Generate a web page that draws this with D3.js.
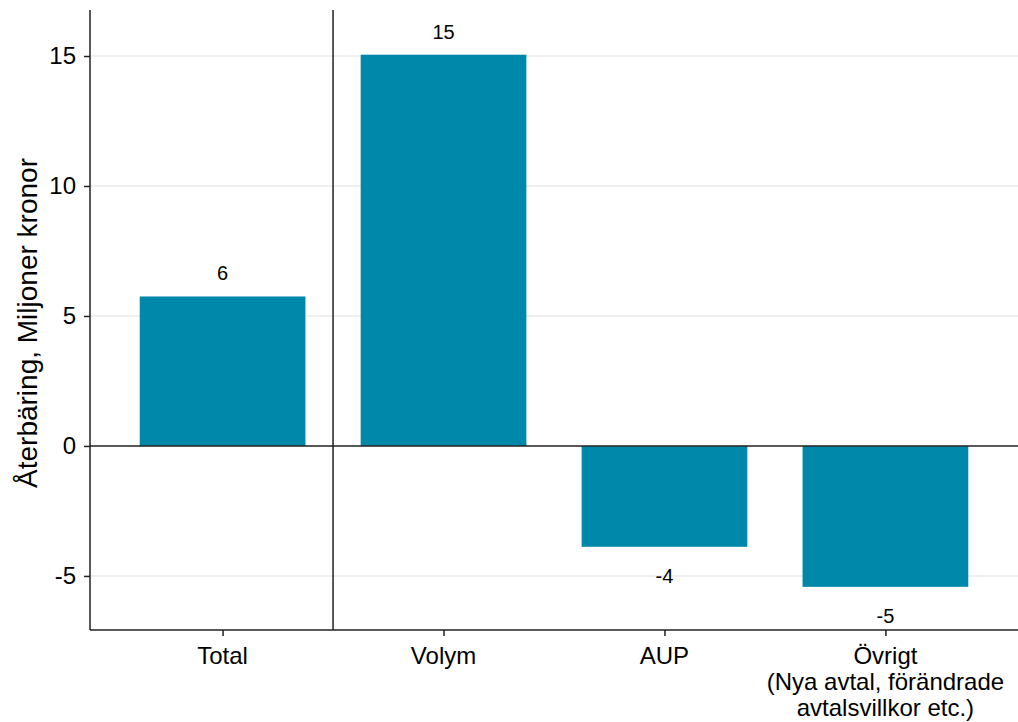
<!DOCTYPE html>
<html>
<head>
<meta charset="utf-8">
<script src="https://d3js.org/d3.v7.min.js"></script>
<style>
  body { margin: 0; background: #fff; }
  text { font-family: "Liberation Sans", Arial, sans-serif; fill: #000; }
</style>
</head>
<body>
<svg width="1018" height="722"></svg>
<script>
let categories = ["Total", "Volym", "AUP", "Övrigt\n(Nya avtal, förändrade\navtalsvillkor etc.)"];
let values = [5.75, 15.05, -3.88, -5.42];
let yTicks = [-5, 0, 5, 10, 15];

let svg = d3.select("svg"),
    width = +svg.attr("width"),
    height = +svg.attr("height");

let mLeft = 90, mRight = 1018, mTop = 10, mBottom = 630;

// ggplot-like discrete axis: positions 1..n with 0.6 expansion
let x = d3.scaleLinear().domain([0.4, categories.length + 0.6]).range([mLeft, mRight]);
let y = d3.scaleLinear().domain([-7.08, 16.77]).range([mBottom, mTop]);
let barW = x(1.75) - x(1);

let g = svg.append("g");

// grid
g.selectAll(".grid")
    .data(yTicks.filter(t => t !== 0))
    .enter().append("line")
    .attr("x1", mLeft).attr("x2", mRight)
    .attr("y1", d => y(d)).attr("y2", d => y(d))
    .attr("stroke", "#ebebeb").attr("stroke-width", 1.5);

// bars
g.selectAll(".bar")
    .data(values)
    .enter().append("rect")
    .attr("x", (d, i) => x(i + 1) - barW / 2)
    .attr("width", barW)
    .attr("y", d => y(Math.max(0, d)))
    .attr("height", d => Math.abs(y(d) - y(0)))
    .attr("fill", "#0088ab");

// zero line
g.append("line")
    .attr("x1", mLeft).attr("x2", mRight)
    .attr("y1", y(0)).attr("y2", y(0))
    .attr("stroke", "#222").attr("stroke-width", 1.5);

// separator after Total
g.append("line")
    .attr("x1", x(1.5)).attr("x2", x(1.5))
    .attr("y1", mTop).attr("y2", mBottom)
    .attr("stroke", "#222").attr("stroke-width", 1.5);

// value labels
g.selectAll(".val")
    .data(values)
    .enter().append("text")
    .attr("x", (d, i) => x(i + 1))
    .attr("y", d => d >= 0 ? y(d) - 23 : y(d) + 29)
    .attr("dy", "0.35em")
    .attr("text-anchor", "middle")
    .style("font-size", "20px")
    .text(d => String(Math.round(d)));

// y axis
let yAxis = g.append("g")
    .attr("transform", `translate(${mLeft},0)`)
    .call(d3.axisLeft(y).tickValues(yTicks).tickSize(6).tickPadding(8).tickFormat(d => String(d)));
yAxis.select(".domain").attr("stroke", "#222").attr("stroke-width", 1.5).attr("d", `M0,${mTop}V${mBottom}`);
yAxis.selectAll(".tick line").attr("stroke", "#222").attr("stroke-width", 1.5);
yAxis.selectAll(".tick text")
    .attr("font-size", null)
    .style("font-size", "24px")
    .style("font-family", "Liberation Sans, Arial, sans-serif")
    .attr("fill", "#000");
yAxis.attr("font-size", 24);

// x axis
let xAxis = g.append("g")
    .attr("transform", `translate(0,${mBottom})`)
    .call(d3.axisBottom(x).tickValues(d3.range(1, categories.length + 1)).tickSize(6).tickFormat(""));
xAxis.select(".domain").attr("stroke", "#222").attr("stroke-width", 1.5).attr("d", `M${mLeft},0H${mRight}`);
xAxis.selectAll(".tick line").attr("stroke", "#222").attr("stroke-width", 1.5);

categories.forEach((c, i) => {
    let t = g.append("text")
        .attr("text-anchor", "middle")
        .style("font-size", "24px");
    c.split("\n").forEach((line, k) => {
        t.append("tspan")
            .attr("x", x(i + 1))
            .attr("y", mBottom + 34 + k * 26)
            .text(line);
    });
});

// y title
svg.append("text")
    .attr("transform", `translate(37,323) rotate(-90)`)
    .attr("text-anchor", "middle")
    .style("font-size", "28px")
    .text("Återbäring, Miljoner kronor");
</script>
</body>
</html>
